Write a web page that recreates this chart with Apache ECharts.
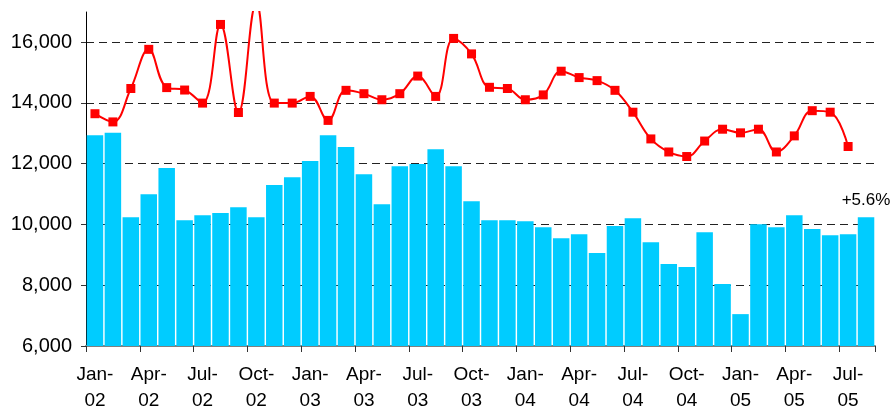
<!DOCTYPE html>
<html>
<head>
<meta charset="utf-8">
<script src="https://cdn.jsdelivr.net/npm/echarts@6/dist/echarts.min.js"></script>
<style>
  html, body { margin: 0; padding: 0; background: #fff; }
  #chart { width: 891px; height: 410px; }
</style>
</head>
<body>
<div id="chart"></div>
<script>
// months Jan-02 .. Aug-05
const months = [
  'Jan-02', 'Feb-02', 'Mar-02', 'Apr-02', 'May-02', 'Jun-02', 'Jul-02', 'Aug-02', 'Sep-02', 'Oct-02', 'Nov-02', 'Dec-02',
  'Jan-03', 'Feb-03', 'Mar-03', 'Apr-03', 'May-03', 'Jun-03', 'Jul-03', 'Aug-03', 'Sep-03', 'Oct-03', 'Nov-03', 'Dec-03',
  'Jan-04', 'Feb-04', 'Mar-04', 'Apr-04', 'May-04', 'Jun-04', 'Jul-04', 'Aug-04', 'Sep-04', 'Oct-04', 'Nov-04', 'Dec-04',
  'Jan-05', 'Feb-05', 'Mar-05', 'Apr-05', 'May-05', 'Jun-05', 'Jul-05', 'Aug-05'
]

// monthly bars
const barValues = [
  12940, 13020, 10240, 11000, 11860, 10140, 10310, 10380, 10570, 10240, 11300, 11560,
  12090, 12940, 12550, 11660, 10670, 11920, 11990, 12480, 11920, 10770, 10140, 10140,
  10110, 9910, 9550, 9680, 9060, 9950, 10210, 9420, 8700, 8600, 9750, 8040,
  7050, 10010, 9910, 10310, 9850, 9650, 9680, 10240
]

// red line (ends Jul-05)
const lineValues = [
  13650, 13380, 14480, 15770, 14510, 14430, 14000, 16590, 13690, 17300, 14000, 14000,
  14220, 13430, 14420, 14310, 14110, 14310, 14890, 14220, 16130, 15620, 14520, 14480,
  14110, 14270, 15050, 14840, 14740, 14420, 13700, 12820, 12390, 12240, 12750, 13140,
  13020, 13140, 12390, 12920, 13750, 13700, 12570
]

const lastLabel = '+5.6%'

const font = 'Liberation Sans, Arial, sans-serif'

const barData = barValues.map((v, i) => {
  if (i === barValues.length - 1) {
    return {
      value: v,
      label: {
        show: true,
        position: 'top',
        distance: 8,
        formatter: lastLabel,
        color: '#000',
        fontSize: 17,
        fontFamily: font
      }
    }
  }
  return v
})

const chart = echarts.init(document.getElementById('chart'))

chart.setOption({
  animation: false,
  backgroundColor: '#fff',
  grid: [
    // grid for the tick labels and dashed lines (6,000 - 16,000)
    { left: 86, right: 16, top: 42, bottom: 64, outerBoundsMode: 'none' },
    // grid for the data (6,000 - 17,000)
    { left: 86, right: 16, top: 12, bottom: 64, outerBoundsMode: 'none' }
  ],
  xAxis: [
    {
      type: 'category',
      gridIndex: 0,
      data: months,
      show: false
    },
    {
      type: 'category',
      gridIndex: 1,
      data: months,
      axisLine: { lineStyle: { color: '#808080', width: 2 } },
      axisTick: { show: true, length: 6, lineStyle: { color: '#333' } },
      axisLabel: {
        interval: 2,
        margin: 16,
        color: '#000',
        fontSize: 19,
        lineHeight: 26,
        fontFamily: font,
        formatter: (v) => v.replace('-', '-\n')
      }
    }
  ],
  yAxis: [
    {
      type: 'value',
      gridIndex: 0,
      min: 6000,
      max: 16000,
      interval: 2000,
      axisLine: { show: false },
      axisTick: { show: true, length: 5, lineStyle: { color: '#333' } },
      axisLabel: {
        margin: 14,
        color: '#000',
        fontSize: 20,
        fontFamily: font,
        formatter: (v) => v.toLocaleString('en-US')
      },
      splitLine: {
        show: true,
        lineStyle: { color: '#222', type: [8, 5], width: 1 }
      }
    },
    {
      type: 'value',
      gridIndex: 1,
      min: 6000,
      max: 17000,
      axisLine: { show: true, lineStyle: { color: '#000', width: 1 } },
      axisTick: { show: false },
      axisLabel: { show: false },
      splitLine: { show: false }
    }
  ],
  series: [
    {
      type: 'bar',
      xAxisIndex: 1,
      yAxisIndex: 1,
      data: barData,
      barCategoryGap: '8%',
      itemStyle: { color: '#00CCFF' }
    },
    {
      type: 'line',
      xAxisIndex: 1,
      yAxisIndex: 1,
      data: lineValues,
      smooth: 0.4,
      clip: true,
      symbol: 'rect',
      symbolSize: 9,
      z: 3,
      lineStyle: { color: '#FF0000', width: 2 },
      itemStyle: { color: '#FF0000' }
    }
  ]
})
</script>
</body>
</html>
